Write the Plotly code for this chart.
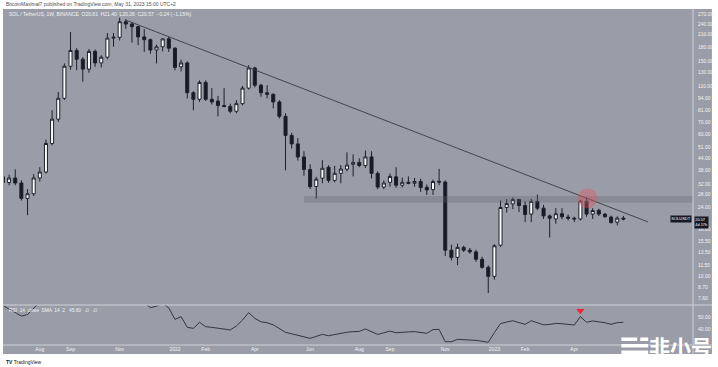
import math
import pandas as pd
import plotly.graph_objects as go

# ---------------- data (weekly SOL/USDT) ----------------
week_start = "2021-06-21"
n_weeks = 102
dates = pd.date_range(week_start, periods=n_weeks, freq="7D")

opens = [35.0, 32.6, 34.5, 32.4, 26.7, 28.3, 34.5, 37.2, 53.3, 72.4,
         94.2, 141, 172, 154, 136, 170, 147, 158, 201, 203,
         247, 240, 232, 204, 197, 173, 180, 199, 177, 140,
         147, 101, 93, 115, 93, 91, 86, 85, 80, 88,
         107, 138, 111, 101, 99, 90, 75, 59, 53, 45,
         38.4, 31, 34.4, 39.5, 33.5, 36.6, 38.6, 41, 42, 40.4,
         45, 36.6, 30.8, 32.7, 35, 31.5, 32.7, 32.3, 33, 30.7,
         29.8, 33.1, 32.8, 13.9, 12.7, 14.4, 13.9, 13.6, 12.4, 11.2,
         10.0, 14.8, 23.8, 24.9, 26.3, 24.4, 21.9, 25.7, 23.6, 21.4,
         20.6, 22.0, 21.1, 20.8, 20.6, 25.8, 21.9, 23.0, 21.9, 21.1,
         19.8, 20.81]
highs = [36.6, 36.0, 38.5, 33.5, 30.0, 36.2, 39.5, 56.0, 81.0, 102,
         146, 217, 177, 158, 175, 174, 162, 214, 214, 260,
         255, 246, 234, 225, 200, 185, 201, 204, 179, 153,
         150, 103, 118, 118, 107, 97, 107, 88, 92, 110,
         143, 140, 113, 111, 100, 92, 78, 61, 57, 48.3,
         41, 35, 43.2, 40.5, 40.2, 40.6, 47.7, 46.5, 44.2, 48.8,
         48.3, 37.5, 33.5, 36.5, 39.5, 34.7, 35.2, 34.5, 34.2, 31.8,
         33.8, 38.7, 33.5, 14.9, 15.1, 14.7, 14.3, 14.0, 12.8, 11.5,
         15.0, 26.0, 26.5, 27.0, 26.6, 25.7, 26.5, 28.0, 24.6, 21.8,
         23.6, 23.6, 21.8, 21.2, 26.2, 26.9, 23.6, 23.4, 22.2, 21.5,
         21.3, 21.40]
lows = [31.5, 31.5, 31.5, 26.0, 21.6, 27.5, 33.0, 36.5, 52.0, 70.0,
        92.0, 135, 134, 116, 130, 140, 139, 154, 180, 195,
        226, 190, 184, 169, 165, 146, 170, 169, 134, 132,
        94, 81, 90, 91, 87, 75, 84, 78, 78, 86,
        105, 108, 96, 94, 83, 73, 38, 50, 43, 35.5,
        30, 26.6, 32.3, 32.5, 32.7, 32.3, 37.5, 35.2, 39.5, 39.1,
        34.3, 30, 30, 30.9, 30.5, 30.6, 31.9, 30.9, 28.9, 27.9,
        27.9, 31.5, 12.9, 12.2, 11.5, 13.6, 13.3, 12.0, 11.0, 8.1,
        9.6, 14.5, 22.3, 23.3, 22.5, 19.8, 19.8, 23.0, 20.6, 16.3,
        19.4, 20.5, 20.2, 19.8, 20.2, 21.2, 20.6, 21.4, 20.9, 19.4,
        19.0, 20.26]
closes = [32.6, 34.5, 32.4, 26.7, 28.3, 34.5, 37.2, 53.3, 72.4, 94.2,
          141, 172, 154, 136, 170, 147, 158, 201, 203, 247,
          240, 232, 204, 197, 173, 180, 199, 177, 139, 147,
          101, 93, 115, 93, 90, 86, 85, 80, 88, 107,
          138, 111, 101, 99, 90, 75, 59, 53, 45, 38.4,
          30.9, 34, 39, 33.5, 36.6, 38.6, 40.6, 42, 40.4, 45,
          36.6, 30.8, 32.4, 35.2, 31.5, 32.7, 32.3, 33, 30.6, 29.7,
          33, 32.8, 13.9, 12.7, 14.4, 13.9, 13.6, 12.4, 11.2, 10.0,
          14.7, 23.8, 25.0, 26.3, 24.4, 21.8, 25.7, 23.6, 21.4, 20.8,
          22.0, 21.2, 20.8, 20.6, 25.8, 21.9, 22.9, 21.9, 21.2, 19.7,
          20.81, 20.57]
rsi = [59.5, 56.5, 53.5, 50.8, 52, 57.5, 63, 72, 80, 85,
       88, 89, 85, 81, 84, 80, 80, 83, 82, 85,
       83, 80, 70, 62, 57.8, 59, 61.5, 57.5, 48, 50.3,
       41.4, 40.5, 45.6, 41.9, 41.4, 40.7, 40, 39.2, 42.5, 47.5,
       53.6, 48.9, 46, 45.2, 43.5, 40.5, 37.2, 36, 34.5, 33.5,
       32.2, 33.8, 35.5, 34.4, 35.5, 36.5, 37.3, 37.8, 38, 40,
       37.8, 35.5, 36.8, 38.3, 36.9, 37.5, 37.6, 37.8, 37, 36.4,
       39.5, 39.7, 29.4, 29.4, 31.4, 31.2, 30.9, 30.5, 29.8, 28.9,
       37, 44.5, 45.8, 46.9, 45.3, 43.9, 46.9, 45.5, 43.5, 43.8,
       44.7, 44.4, 44, 43.3, 50.3, 45.6, 46.7, 46, 45.2, 43.9,
       45.3, 45.6]

# price-scale labels (log scale) and rsi labels
price_ticks = [270, 240, 210, 180, 150, 130, 110, 94, 81, 70, 60, 51, 44, 38,
               32, 28, 24, 18, 15.5, 13.5, 11.5, 10, 8.7, 7.6]
rsi_ticks = [40, 50]
month_tick_dates = ["2021-08-02", "2021-09-06", "2021-11-01", "2022-01-03",
                    "2022-02-07", "2022-04-04", "2022-06-06", "2022-08-01",
                    "2022-09-05", "2022-11-07", "2023-01-02", "2023-02-06",
                    "2023-04-03"]
month_tick_labels = ["Aug", "Sep", "Nov", "2022", "Feb", "Apr", "Jun", "Aug",
                     "Sep", "Nov", "2023", "Feb", "Apr"]

# drawings
trend_dates = ["2021-11-08", "2023-06-26"]
trend_prices = [252, 19.85]
zone_start = "2022-05-30"
zone_low, zone_high = 25.25, 27.5
circle_date, circle_price = "2023-04-18", 26.7
signal_date, signal_rsi = "2023-04-10", 55.3

# ---------------- layout geometry ----------------
W, H = 718, 367
PL, PR, PT, PB = 4, 696, 9, 345
PANE_SPLIT = 305


def px(x):
    return (x - PL) / (PR - PL)


def py(y):
    return (PB - y) / (PB - PT)


price_dom0 = py(PANE_SPLIT)
price_range = [math.log10(6.97), math.log10(289.9)]
rsi_range = [26.67, 60.0]


def price_paper(p):
    return price_dom0 + (math.log10(p) - price_range[0]) / (price_range[1] - price_range[0]) * (1 - price_dom0)


x_left = pd.Timestamp("2022-01-03") + pd.Timedelta(days=-27.83 * 7)
x_right = pd.Timestamp("2022-01-03") + pd.Timedelta(days=84.33 * 7)

BG = "#9a9da7"
DARK = "#161a25"
LIGHT = "#f2f3f6"
FONT = "Liberation Sans"

fig = go.Figure()

# support / resistance zone
fig.add_trace(go.Scatter(
    x=[pd.Timestamp(zone_start), x_right, x_right, pd.Timestamp(zone_start), pd.Timestamp(zone_start)],
    y=[zone_low, zone_low, zone_high, zone_high, zone_low],
    fill="toself", fillcolor="rgba(95,98,108,0.30)", line=dict(width=0),
    mode="lines", hoverinfo="skip", showlegend=False, xaxis="x", yaxis="y"))

fig.add_trace(go.Candlestick(
    x=dates, open=opens, high=highs, low=lows, close=closes,
    increasing=dict(line=dict(color="#1c202b", width=1), fillcolor="#ffffff"),
    decreasing=dict(line=dict(color="#1c202b", width=1), fillcolor=DARK),
    whiskerwidth=0, showlegend=False, xaxis="x", yaxis="y"))

# descending trendline
fig.add_trace(go.Scatter(
    x=trend_dates, y=trend_prices, mode="lines",
    line=dict(color="#383b44", width=0.9), showlegend=False, xaxis="x", yaxis="y"))

# highlight circle
fig.add_trace(go.Scatter(
    x=[circle_date], y=[circle_price], mode="markers",
    marker=dict(size=20, color="rgba(226,88,92,0.40)", line=dict(width=0)),
    showlegend=False, xaxis="x", yaxis="y"))

# RSI
fig.add_trace(go.Scatter(
    x=dates, y=rsi, mode="lines", line=dict(color="#262a35", width=0.9),
    showlegend=False, xaxis="x", yaxis="y2"))
fig.add_trace(go.Scatter(
    x=[signal_date], y=[signal_rsi], mode="markers",
    marker=dict(symbol="triangle-down", size=7, color="#f0202e", line=dict(width=0)),
    showlegend=False, xaxis="x", yaxis="y2"))

shapes = [
    dict(type="rect", xref="paper", yref="paper", x0=px(3), x1=px(715), y0=py(354), y1=py(9),
         fillcolor=BG, line=dict(width=0), layer="below"),
    dict(type="line", xref="paper", yref="paper", x0=px(3), x1=px(715), y0=py(PANE_SPLIT), y1=py(PANE_SPLIT),
         line=dict(color="#cfd1d7", width=1)),
    dict(type="line", xref="paper", yref="paper", x0=px(3), x1=px(715), y0=py(345), y1=py(345),
         line=dict(color="#cfd1d7", width=1)),
    dict(type="line", xref="paper", yref="paper", x0=px(696), x1=px(696), y0=py(354), y1=py(9),
         line=dict(color="#cfd1d7", width=1)),
    # watermark icon bars
    dict(type="rect", xref="paper", yref="paper", x0=px(624), x1=px(640), y0=py(341), y1=py(337.5),
         fillcolor="white", line=dict(width=0)),
    dict(type="rect", xref="paper", yref="paper", x0=px(643), x1=px(651), y0=py(341), y1=py(337.5),
         fillcolor="white", line=dict(width=0)),
    dict(type="rect", xref="paper", yref="paper", x0=px(624), x1=px(651), y0=py(347.5), y1=py(344),
         fillcolor="white", line=dict(width=0)),
    dict(type="rect", xref="paper", yref="paper", x0=px(624), x1=px(651), y0=py(355), y1=py(350.5),
         fillcolor="white", line=dict(width=0)),
]

last = len(closes) - 1
chg = closes[last] - closes[last - 1]
chg_pct = chg / closes[last - 1] * 100
legend_txt = ("SOL / TetherUS, 1W, BINANCE  O%.2f  H%.2f  L%.2f  C%.2f  %+.2f (%+.2f%%)"
              % (opens[last], highs[last], lows[last], closes[last], chg, chg_pct)).replace("-", "−")

annotations = [
    dict(text="BitcoinMaximal7 published on TradingView.com, May 31, 2023 15:00 UTC+2",
         x=px(4), y=py(4.5), xref="paper", yref="paper", xanchor="left", yanchor="middle",
         showarrow=False, font=dict(size=5, color="#4b4e57", family=FONT)),
    dict(text=legend_txt, x=px(7), y=py(14), xref="paper", yref="paper", xanchor="left",
         yanchor="middle", showarrow=False, font=dict(size=5, color=LIGHT, family=FONT)),
    dict(text="RSI  14  close  SMA  14  2   %.2f   ∅   ∅" % rsi[-1], x=px(7), y=py(310.5),
         xref="paper", yref="paper", xanchor="left", yanchor="middle", showarrow=False,
         font=dict(size=4.8, color=LIGHT, family=FONT)),
    dict(text="SOLUSDT", x=px(695), y=price_paper(closes[last]), xref="paper", yref="paper",
         xanchor="right", yanchor="middle", showarrow=False, bgcolor=DARK, borderpad=0.3,
         font=dict(size=4, color="white", family=FONT)),
    dict(text="%.2f<br>4d 17h" % closes[last], x=px(697), y=price_paper(closes[last]), xref="paper",
         yref="paper", xanchor="left", yanchor="top", yshift=3, showarrow=False, bgcolor=DARK,
         borderpad=0.3, align="left", font=dict(size=3.9, color="white", family=FONT)),
    dict(text="<b>TV</b> TradingView", x=px(4), y=py(361.5), xref="paper", yref="paper",
         xanchor="left", yanchor="middle", showarrow=False,
         font=dict(size=5, color="#131722", family=FONT)),
    dict(text="<b>非小号</b>", x=px(683), y=py(346), xref="paper", yref="paper",
         xanchor="center", yanchor="middle", showarrow=False,
         font=dict(size=21, color="white", family="Noto Sans CJK SC")),
]

fig.update_layout(
    width=W, height=H,
    margin=dict(l=PL, r=W - PR, t=PT, b=H - PB, pad=0),
    paper_bgcolor="white", plot_bgcolor=BG,
    showlegend=False,
    font=dict(family=FONT, size=5, color=LIGHT),
    shapes=shapes, annotations=annotations,
    xaxis=dict(type="date", range=[x_left, x_right], anchor="y2",
               tickvals=pd.to_datetime(month_tick_dates), ticktext=month_tick_labels,
               tickfont=dict(size=5, color=LIGHT, family=FONT), ticks="", ticklen=0,
               showgrid=False, zeroline=False, showline=False,
               rangeslider=dict(visible=False), fixedrange=True),
    yaxis=dict(type="log", range=price_range, domain=[price_dom0, 1], side="right", anchor="x",
               tickvals=price_ticks, ticktext=["%.2f" % v for v in price_ticks],
               tickfont=dict(size=5, color=LIGHT, family=FONT), ticks="", ticklen=0,
               showgrid=False, zeroline=False, showline=False, ticklabelstandoff=4),
    yaxis2=dict(range=rsi_range, domain=[0, price_dom0], side="right", anchor="x",
                tickvals=rsi_ticks, ticktext=["%.2f" % v for v in rsi_ticks],
                tickfont=dict(size=5, color=LIGHT, family=FONT), ticks="", ticklen=0,
                showgrid=False, zeroline=False, showline=False, ticklabelstandoff=4),
)

fig.write_html("out.html", config={"displayModeBar": False},
               post_script="document.body.style.margin='0';document.body.style.overflow='hidden';")
